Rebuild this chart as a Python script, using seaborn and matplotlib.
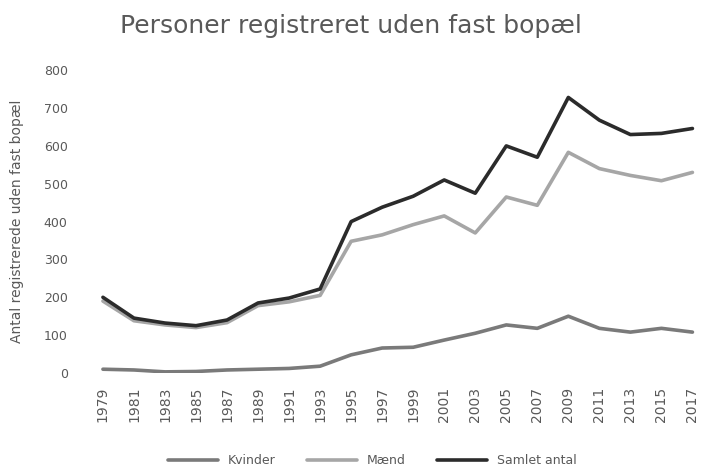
import numpy as np
import pandas as pd
import matplotlib
matplotlib.use("Agg")
import matplotlib.pyplot as plt
import seaborn as sns
from matplotlib.lines import Line2D

years = ["1979", "1981", "1983", "1985", "1987", "1989", "1991", "1993", "1995", "1997",
         "1999", "2001", "2003", "2005", "2007", "2009", "2011", "2013", "2015", "2017"]
kvinder = [10, 8, 3, 4, 8, 10, 12, 18, 48, 66, 68, 87, 105, 127, 118, 150, 118, 108, 118, 108]
maend = [190, 138, 127, 120, 133, 178, 188, 205, 348, 365, 392, 415, 370, 465, 443, 583, 540, 522, 508, 530]
total = [200, 145, 132, 125, 140, 185, 198, 222, 400, 438, 467, 510, 475, 600, 570, 728, 668, 630, 633, 646]
series_names = ["Kvinder", "Mænd", "Samlet antal"]

sns.set_theme(style="white")
plt.rcParams['font.family'] = ['DejaVu Sans']

df = pd.DataFrame({
    "pos": list(range(len(years))) * 3,
    "value": kvinder + maend + total,
    "serie": [series_names[0]] * len(years) + [series_names[1]] * len(years) + [series_names[2]] * len(years),
})

fig = plt.figure(figsize=(7.02, 4.68), dpi=100)
ax = fig.add_axes([0.14, 0.203, 0.853, 0.647])
palette = {series_names[0]: "#7a7a7a", series_names[1]: "#a6a6a6", series_names[2]: "#2b2b2b"}
sns.lineplot(data=df, x="pos", y="value", hue="serie", palette=palette, ax=ax,
             linewidth=2.6, legend=False)

ax.set_ylim(0, 800)
ax.set_yticks(range(0, 801, 100))
ax.set_xlim(-0.15, len(years) - 0.85)
ax.set_xticks(range(len(years)))
ax.set_xticklabels(years, rotation=90, fontsize=10, color="#595959")
ax.tick_params(axis="y", labelsize=9, labelcolor="#595959", length=0, pad=22)
ax.tick_params(axis="x", length=0, pad=10)
for s in ax.spines.values():
    s.set_visible(False)
ax.set_xlabel("")
ax.set_ylabel("Antal registrerede uden fast bopæl", fontsize=10, color="#595959", labelpad=14)
fig.suptitle("Personer registreret uden fast bopæl", fontsize=18, color="#595959", y=0.97)

handles = [Line2D([0], [0], color=palette[n], lw=2.6) for n in series_names]
fig.legend(handles, series_names, loc="center", bbox_to_anchor=(0.53, 0.015), ncol=3,
           frameon=False, fontsize=9, labelcolor="#595959", handlelength=4, columnspacing=2.5)

fig.savefig("out.png", dpi=100)
